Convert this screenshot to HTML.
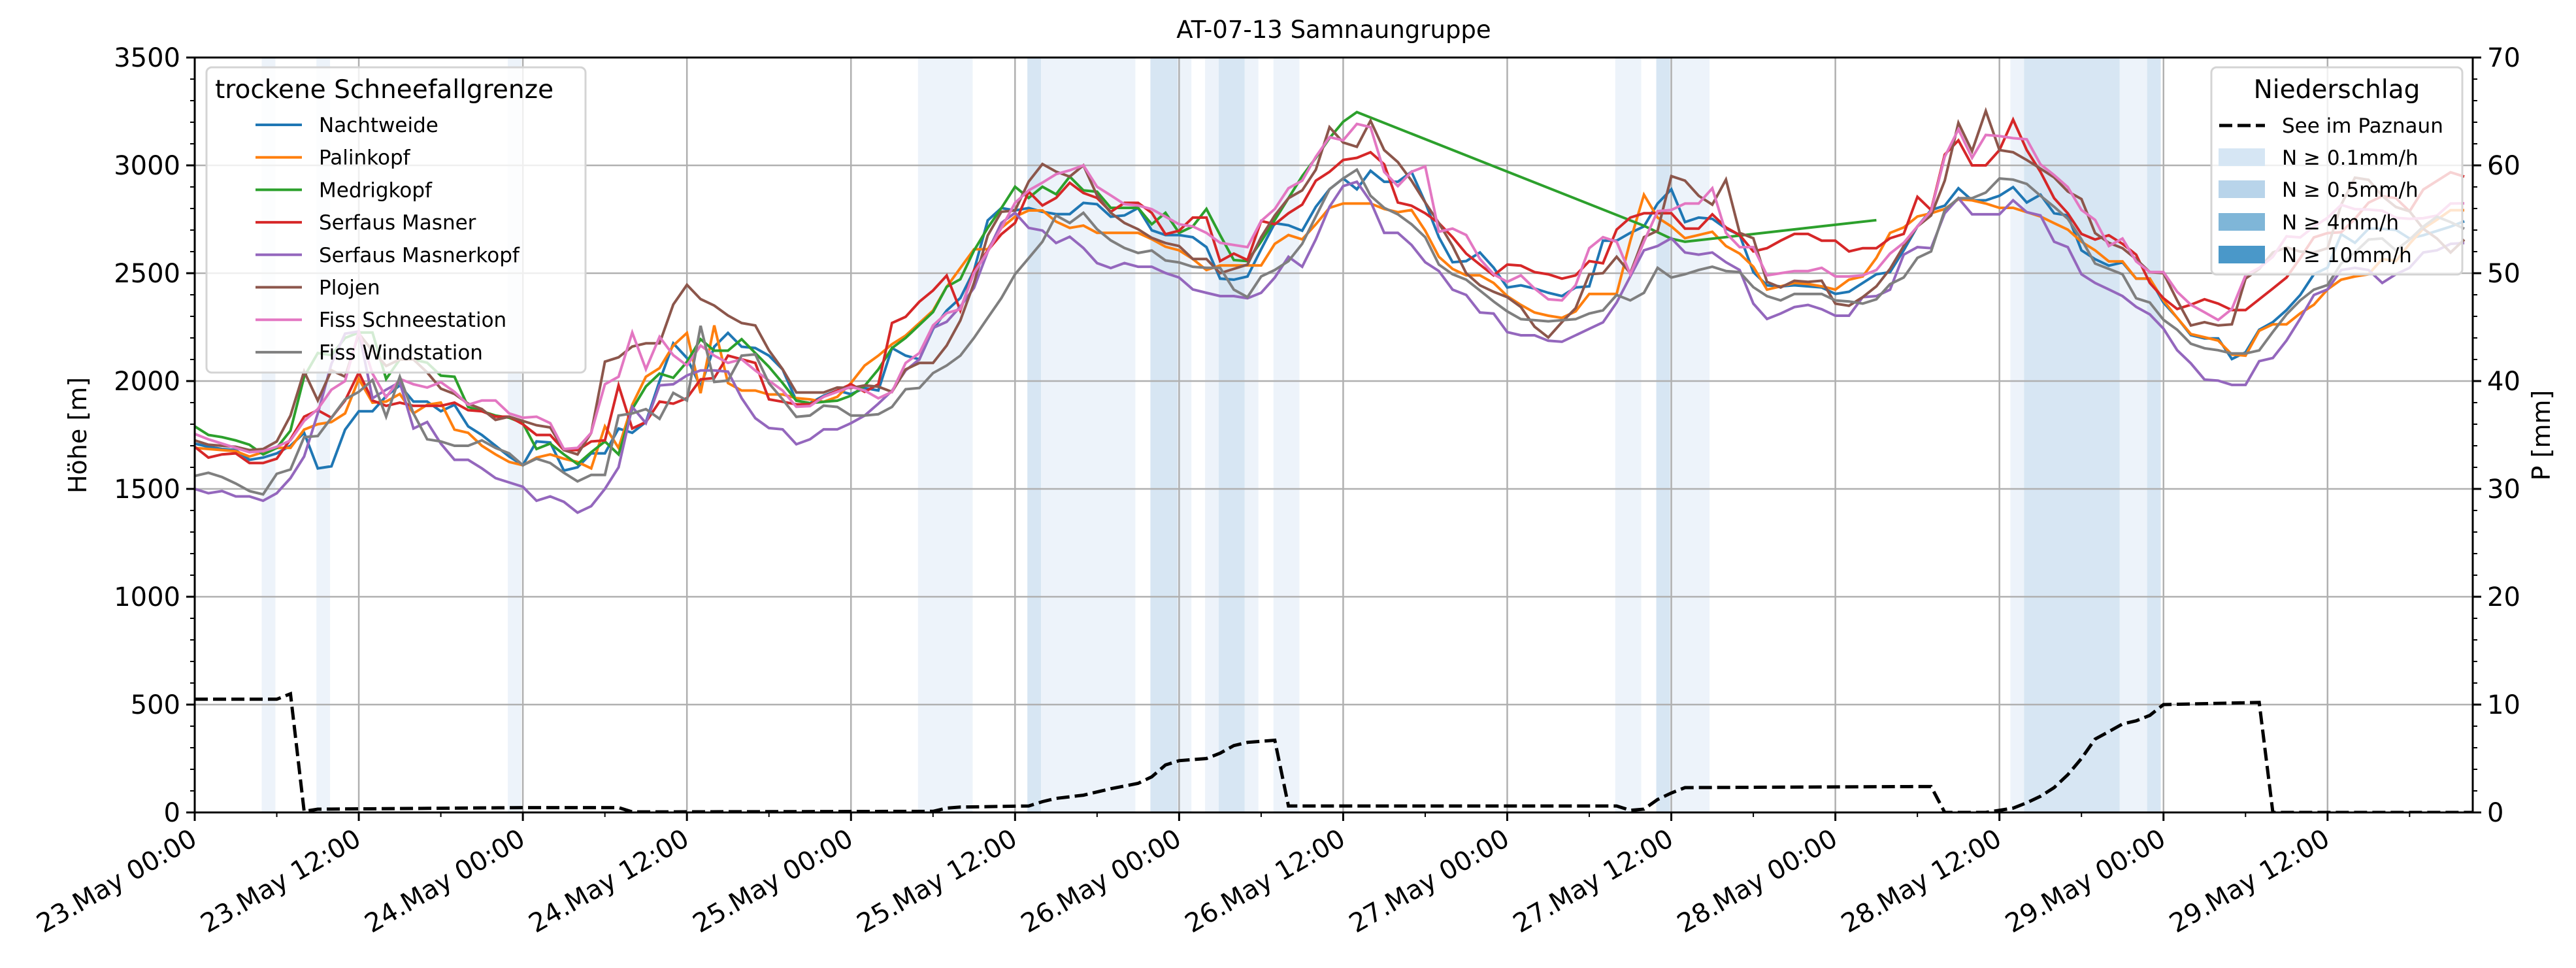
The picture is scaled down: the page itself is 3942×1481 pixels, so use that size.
<!DOCTYPE html>
<html><head><meta charset="utf-8"><style>
html,body{margin:0;padding:0;background:#fff;}
svg{display:block;font-family:"DejaVu Sans","Liberation Sans",sans-serif;}
</style></head><body>
<svg id="chart" width="3942" height="1481" viewBox="0 0 3942 1481" xmlns="http://www.w3.org/2000/svg">
<rect x="0" y="0" width="3942" height="1481" fill="#fff"/>
<g id="spans"></g>
<g id="grid"></g>
<g id="lines"></g>
<g id="axes"></g>
<text x="2041" y="58" font-size="37" text-anchor="middle">AT-07-13 Samnaungruppe</text>
<text transform="translate(132,666) rotate(-90)" font-size="38" text-anchor="middle">Höhe [m]</text>
<text transform="translate(3902,666) rotate(-90)" font-size="38" text-anchor="middle">P [mm]</text>

<g>
<rect x="316" y="103" width="580" height="467" rx="8" fill="#fff" fill-opacity="0.8" stroke="#d4d4d4" stroke-width="3"/>
<text x="329" y="150" font-size="39">trockene Schneefallgrenze</text>
<g id="leg1"></g>
</g>
<g>
<rect x="3384" y="103" width="384" height="317" rx="8" fill="#fff" fill-opacity="0.8" stroke="#d4d4d4" stroke-width="3"/>
<text x="3576" y="150" font-size="39" text-anchor="middle">Niederschlag</text>
<line x1="3396" y1="192" x2="3466" y2="192" stroke="#000" stroke-width="5" stroke-dasharray="20,8"/>
<text x="3492" y="203" font-size="31">See im Paznaun</text>
<rect x="3395" y="227" width="71" height="27" fill="#d6e6f4"/>
<text x="3492" y="252" font-size="31">N ≥ 0.1mm/h</text>
<rect x="3395" y="276" width="71" height="27" fill="#b8d4ea"/>
<text x="3492" y="301" font-size="31">N ≥ 0.5mm/h</text>
<rect x="3395" y="326" width="71" height="27" fill="#7fb6d8"/>
<text x="3492" y="351" font-size="31">N ≥ 4mm/h</text>
<rect x="3395" y="376" width="71" height="27" fill="#4a98c9"/>
<text x="3492" y="401" font-size="31">N ≥ 10mm/h</text>
</g>
</svg>
<script>
const seriesNames = ["Nachtweide","Palinkopf","Medrigkopf","Serfaus Masner","Serfaus Masnerkopf","Plojen","Fiss Schneestation","Fiss Windstation"];
const seriesColors = ["#1f77b4","#ff7f0e","#2ca02c","#d62728","#9467bd","#8c564b","#e377c2","#7f7f7f"];
const nachtweide = [1710,1695,1685,1680,1635,1645,1665,1700,1760,1595,1605,1775,1860,1860,1930,1980,1905,1905,1860,1890,1790,1750,1700,1650,1610,1720,1715,1585,1600,1665,1665,1780,1760,1810,2000,2175,
2107,1974,2159,2223,2159,2153,2118,2054,1909,1898,1932,1956,1939,1968,1956,2153,2118,2101,2241,2327,2385,2513,2745,2802,2791,2802,2785,2774,2774,2826,2820,2762,2768,2802,2699,2677,
2677,2667,2621,2475,2470,2485,2611,2732,2722,2697,2808,2889,2939,2889,2975,2924,2924,2970,2828,2667,2551,2556,2596,2526,2434,2444,2429,2409,2394,2434,2439,2651,2651,2687,
2717,2823,2889,2737,2758,2752,2707,2677,2505,2444,2439,2444,2439,2434,2404,2414,2455,2495,2505,2606,2717,2793,2813,2894,2838,2838,2859,2899,2828,2864,2778,2768,2606,
2565,2535,2550,2475,2475,2364,2293,2213,2198,2198,2102,2133,2238,2273,2329,2399,2495,2526,2681,2641,2706,2706,2701,2661,2676,2696,2716,2741];
const palinkopf = [1690,1685,1680,1675,1650,1670,1690,1690,1775,1800,1810,1850,2010,1900,1905,1940,1850,1890,1900,1775,1760,1700,1660,1625,1610,1645,1660,1640,1625,1595,1790,1690,1890,2020,2060,2165,
2223,1944,2258,1991,1956,1956,1938,1938,1921,1915,1904,1927,1991,2072,2118,2171,2211,2269,2327,2437,2524,2611,2611,2710,2762,2791,2791,2739,2710,2721,2687,2687,2687,2687,2658,2623,
2606,2566,2515,2536,2536,2536,2536,2636,2677,2657,2727,2803,2823,2823,2823,2798,2783,2793,2697,2576,2520,2490,2490,2455,2394,2353,2318,2303,2293,2323,2404,2404,2404,2650,
2864,2758,2717,2662,2677,2692,2626,2591,2530,2424,2439,2455,2450,2439,2424,2470,2485,2571,2687,2712,2763,2778,2798,2843,2838,2823,2803,2803,2783,2763,2732,2702,2646,
2606,2555,2555,2475,2475,2374,2293,2218,2203,2188,2123,2118,2233,2263,2263,2314,2354,2425,2470,2485,2495,2566,2556,2636,2707,2748,2792,2792];
const medrigkopf = [1790,1750,1740,1725,1705,1660,1690,1770,2020,2130,2120,2200,2225,2225,2010,2100,2100,2085,2025,2020,1880,1860,1840,1830,1805,1685,1710,1660,1615,1670,1720,1660,1870,1975,2035,2015,
2089,2194,2141,2141,2194,2130,2066,1991,1909,1898,1904,1909,1932,1978,2054,2153,2200,2260,2320,2437,2472,2605,2710,2802,2901,2849,2901,2866,2948,2884,2878,2803,2803,2803,2727,2780,
2687,2717,2798,2677,2561,2556,2647,2747,2848,2950,3035,3126,3202,3247,
null,null,null,null,null,null,null,null,null,null,null,null,null,null,null,null,null,null,null,null,
2720,2690,2660,2646,null,null,null,null,null,null,null,null,null,null,null,null,null,2746,
null,null,null,null,null,null,null,null,null,null,null,null,null,null,null,
null,null,null,null,null,null,null,null,null,null,null,null,null,null,null,null,null,null,null,null,null,null,null,null,null,null,null,null];
const serfausMasner = [1695,1645,1660,1665,1620,1620,1640,1730,1835,1865,1830,1910,2040,1910,1885,1900,1885,1885,1885,1900,1865,1860,1835,1835,1800,1750,1750,1680,1680,1720,1725,1980,1780,1810,1905,1895,
1921,2008,2014,2118,2101,2084,1915,1904,1892,1892,1927,1956,1985,1950,1985,2269,2298,2368,2420,2489,2327,2513,2605,2681,2733,2878,2814,2849,2919,2872,2849,2785,2826,2826,2780,2681,
2697,2758,2758,2556,2591,2561,2742,2727,2778,2818,2929,2970,3025,3035,3061,3005,2828,2813,2778,2732,2667,2591,2540,2490,2540,2535,2505,2495,2475,2490,2556,2546,2702,2758,
2778,2778,2778,2707,2707,2773,2712,2677,2601,2616,2651,2682,2682,2651,2651,2601,2616,2616,2662,2682,2854,2793,3050,3116,3000,3000,3071,3212,3071,2970,2848,2778,2682,
2656,2676,2636,2586,2455,2384,2334,2354,2379,2359,2329,2329,2379,2429,2480,2570,2666,2686,2690,2752,2827,2858,2848,2787,2888,2928,2968,2948];
const serfausMasnerkopf = [1500,1480,1490,1465,1465,1445,1480,1550,1650,1850,2080,2220,2230,1920,1960,1995,1780,1810,1710,1635,1635,1595,1550,1530,1510,1445,1465,1440,1390,1420,1500,1600,1880,1805,1980,1985,
2026,2049,2049,2044,1921,1828,1782,1776,1707,1730,1776,1776,1805,1840,1895,1955,2049,2101,2246,2275,2345,2432,2600,2733,2780,2710,2698,2640,2669,2617,2547,2524,2547,2530,2530,2501,
2480,2425,2409,2394,2394,2384,2409,2480,2576,2530,2657,2808,2904,2924,2833,2687,2687,2631,2551,2510,2424,2399,2318,2313,2227,2212,2212,2187,2182,2212,2242,2272,2364,2485,
2606,2626,2662,2596,2586,2596,2551,2515,2359,2288,2313,2343,2353,2333,2303,2303,2389,2394,2424,2586,2621,2616,2778,2848,2773,2773,2773,2838,2783,2768,2646,2621,2495,
2455,2425,2394,2344,2309,2243,2143,2082,2007,2002,1982,1982,2092,2107,2188,2289,2399,2425,2515,2525,2515,2455,2495,2525,2596,2606,2636,2640];
const plojen = [1725,1705,1700,1695,1680,1685,1720,1840,2045,1910,2050,2020,2220,2140,2070,2100,2100,2040,1965,1940,1895,1870,1820,1835,1815,1795,1785,1680,1660,1760,2090,2110,2160,2175,2175,2355,
2446,2380,2350,2304,2269,2258,2142,2055,1947,1947,1947,1970,1968,1980,1974,1950,2054,2084,2084,2165,2281,2455,2675,2785,2791,2925,3006,2971,2948,3000,2861,2780,2733,2704,2664,2640,
2626,2566,2566,2500,2520,2540,2667,2768,2848,2884,2980,3177,3106,3086,3207,3071,3015,2929,2828,2732,2626,2500,2444,2414,2389,2343,2252,2202,2273,2338,2495,2500,2576,2500,
2667,2697,2950,2929,2859,2818,2934,2687,2662,2460,2434,2465,2460,2465,2359,2349,2389,2439,2520,2626,2717,2768,2929,3197,3066,3252,3071,3061,3025,2985,2944,2879,2844,
2686,2641,2616,2565,2505,2500,2374,2258,2273,2258,2263,2475,2520,2596,2620,2600,2596,2616,2818,2943,2933,2858,2807,2787,2706,2661,2596,2656];
const fissSchneestation = [1755,1730,1710,1690,1670,1675,1695,1725,1815,1870,1960,2000,2230,2035,1925,2010,1985,1970,1995,1950,1890,1910,1910,1850,1830,1835,1805,1685,1690,1760,1985,2020,2225,2055,2205,2120,
2072,2165,2118,2084,2101,2049,2002,1956,1881,1884,1927,1950,1973,1956,1920,1950,2084,2130,2258,2315,2333,2501,2600,2710,2826,2884,2920,2959,2977,3000,2901,2861,2820,2814,2797,2762,
2727,2717,2687,2641,2631,2621,2742,2798,2894,2929,3040,3131,3116,3192,3177,2970,2904,2970,2995,2692,2707,2677,2566,2495,2460,2490,2429,2379,2374,2444,2616,2667,2646,2495,
2646,2788,2793,2823,2823,2894,2687,2621,2621,2490,2500,2510,2510,2525,2485,2485,2490,2515,2591,2641,2717,2788,3040,3167,3035,3141,3136,3126,3121,3005,2955,2899,2793,
2747,2626,2661,2555,2505,2505,2414,2354,2319,2283,2334,2490,2525,2576,2671,2666,2716,2757,2817,2797,2795,2790,2757,2752,2755,2767,2823,2824];
const fissWindstation = [1560,1575,1555,1525,1490,1475,1570,1590,1740,1745,1830,1915,1950,2005,1835,2020,1850,1730,1720,1700,1700,1725,1690,1665,1610,1640,1620,1575,1535,1565,1565,1840,1850,1870,1825,1945,
1910,2256,1996,2002,2118,2124,1990,1915,1834,1840,1886,1880,1840,1840,1846,1880,1962,1968,2037,2072,2118,2200,2293,2385,2495,2570,2646,2768,2733,2780,2704,2652,2617,2594,2605,2559,
2550,2530,2525,2525,2424,2389,2485,2515,2556,2636,2763,2889,2939,2980,2859,2803,2773,2727,2667,2540,2495,2470,2420,2369,2323,2287,2282,2277,2282,2287,2313,2328,2399,2374,
2409,2525,2480,2495,2515,2530,2510,2505,2435,2394,2374,2404,2404,2404,2374,2369,2359,2379,2449,2480,2571,2601,2793,2848,2848,2874,2939,2934,2914,2859,2808,2752,2657,
2545,2520,2495,2384,2364,2284,2238,2173,2152,2143,2128,2128,2142,2228,2309,2374,2424,2445,2545,2596,2656,2661,2606,2656,2716,2762,2737,2706];
const precipHours = [0,6,7,8,9,24,31,32,54,55,56,61,62,63,65,67,69,70,71,72,74,75,76,77,79,80,104,105,106,107,108,109,126,127,128,131,132,133,134,135,136,137,138,139,140,141,142,143,144,151,152,167];
const precipValues = [10.5,10.5,11,0.1,0.3,0.45,0.45,0.05,0.1,0.4,0.5,0.6,1.0,1.3,1.6,2.2,2.7,3.3,4.4,4.8,5.0,5.5,6.2,6.5,6.7,0.6,0.6,0.2,0.3,1.2,1.8,2.3,2.4,2.4,0,0,0.2,0.4,0.9,1.5,2.3,3.5,5.0,6.8,7.5,8.2,8.5,9.0,10.0,10.2,0,0];
const spanStart = [4.9,8.9,22.9,52.9,60.9,61.9,69.9,71.9,73.9,74.9,76.8,78.9,103.9,106.9,107.9,132.8,133.8,140.8,142.8];
const spanEnd   = [5.9,9.9,23.9,56.9,61.9,68.8,71.9,72.9,74.9,76.8,77.8,80.8,105.8,107.9,110.8,133.8,140.8,142.8,143.8];
const spanLevel = [1,1,1,1,2,1,2,1,1,2,1,1,1,2,1,1,2,1,2];
const xTickLabels = ["23.May 00:00","23.May 12:00","24.May 00:00","24.May 12:00","25.May 00:00","25.May 12:00","26.May 00:00","26.May 12:00","27.May 00:00","27.May 12:00","28.May 00:00","28.May 12:00","29.May 00:00","29.May 12:00"];
const yTicks = [0,500,1000,1500,2000,2500,3000,3500];
const y2Ticks = [0,10,20,30,40,50,60,70];

const NS = "http://www.w3.org/2000/svg";
const L = 298, R = 3784, T = 88, B = 1243;
const HMAX = 166.62, YMAX = 3500, PMAX = 70;
function xs(h){ return L + h/HMAX*(R-L); }
function ys(v){ return B - v/YMAX*(B-T); }
function ps(p){ return B - p/PMAX*(B-T); }
function mk(tag, attrs, parent){
  const e = document.createElementNS(NS, tag);
  for (const k in attrs) e.setAttribute(k, attrs[k]);
  parent.appendChild(e);
  return e;
}
const spansG = document.getElementById("spans");
const gridG = document.getElementById("grid");
const linesG = document.getElementById("lines");
const axesG = document.getElementById("axes");
const leg1 = document.getElementById("leg1");

// precipitation spans
for (let i = 0; i < spanStart.length; i++) {
  const r = mk("rect", {x: xs(spanStart[i]), y: T, width: xs(spanEnd[i]) - xs(spanStart[i]), height: B - T, fill: spanLevel[i] === 2 ? "#d7e6f3" : "#edf3fa"}, spansG);
  
  
}
// grid
for (let i = 0; i < xTickLabels.length; i++) {
  const gx = xs(i*12);
  const g = mk("line", {x1: gx, x2: gx, y1: T, y2: B, stroke: "#b0b0b0", "stroke-width": 2.5}, gridG);
  
  
}
for (const v of yTicks) {
  const g = mk("line", {x1: L, x2: R, y1: ys(v), y2: ys(v), stroke: "#b0b0b0", "stroke-width": 2.5}, gridG);
  
  
}
// series
const allSeries = [nachtweide, palinkopf, medrigkopf, serfausMasner, serfausMasnerkopf, plojen, fissSchneestation, fissWindstation];
const clip = mk("clipPath", {id: "plotclip"}, document.getElementById("chart"));
mk("rect", {x: L, y: T, width: R-L, height: B-T}, clip);
linesG.setAttribute("clip-path", "url(#plotclip)");
allSeries.forEach((arr, si) => {
  let d = "";
  arr.forEach((v, h) => {
    if (v === null || v === undefined) return;
    d += (d ? "L" : "M") + xs(h).toFixed(1) + "," + ys(v).toFixed(1);
  });
  const p = mk("path", {d: d, fill: "none", stroke: seriesColors[si], "stroke-width": 4, "stroke-linejoin": "miter"}, linesG);
  
  
});
// precipitation line
let pd = "";
precipHours.forEach((h, i) => { pd += (i ? "L" : "M") + xs(h).toFixed(1) + "," + ps(precipValues[i]).toFixed(1); });
const pl = mk("path", {d: pd, fill: "none", stroke: "#000", "stroke-width": 5, "stroke-dasharray": "20,8"}, linesG);



// frame
const fr = mk("rect", {x: L, y: T, width: R-L, height: B-T, fill: "none", stroke: "#000", "stroke-width": 3}, axesG);


// left y ticks
for (let v = 0; v <= 3500; v += 100) {
  const major = v % 500 === 0;
  const t = mk("line", {x1: L, x2: L - (major ? 13 : 7), y1: ys(v), y2: ys(v), stroke: "#000", "stroke-width": major ? 3 : 2}, axesG);
  
  
}
for (const v of yTicks) {
  const tx = mk("text", {x: L - 22, y: ys(v) + 14, "font-size": 40, "text-anchor": "end"}, axesG);
  tx.textContent = v;
  
  
}
// right y ticks
for (let p = 0; p <= 70; p += 2) {
  const major = p % 10 === 0;
  const t = mk("line", {x1: R, x2: R + (major ? 13 : 7), y1: ps(p), y2: ps(p), stroke: "#000", "stroke-width": major ? 3 : 2}, axesG);
  
  
}
for (const p of y2Ticks) {
  const tx = mk("text", {x: R + 22, y: ps(p) + 14, "font-size": 40, "text-anchor": "start"}, axesG);
  tx.textContent = p;
  
  
}
// x ticks
for (let h = 0; h <= HMAX; h += 6) {
  const major = h % 12 === 0;
  const t = mk("line", {x1: xs(h), x2: xs(h), y1: B, y2: B + (major ? 13 : 7), stroke: "#000", "stroke-width": major ? 3 : 2}, axesG);
  
  
}
xTickLabels.forEach((lab, i) => {
  const x = xs(i*12) + 6, y = B + 48;
  const tx = mk("text", {x: x, y: y, "font-size": 40, "text-anchor": "end", transform: "rotate(-30 " + x + " " + y + ")"}, axesG);
  tx.textContent = lab;
  
  
});
// station legend
seriesNames.forEach((n, i) => {
  const cy = 191 + i*49.7;
  const ln = mk("line", {x1: 391, x2: 462, y1: cy, y2: cy, stroke: seriesColors[i], "stroke-width": 4}, leg1);
  
  
  const tx = mk("text", {x: 488, y: cy + 11, "font-size": 31}, leg1);
  tx.textContent = n;
  
  
});
</script>
</body></html>
